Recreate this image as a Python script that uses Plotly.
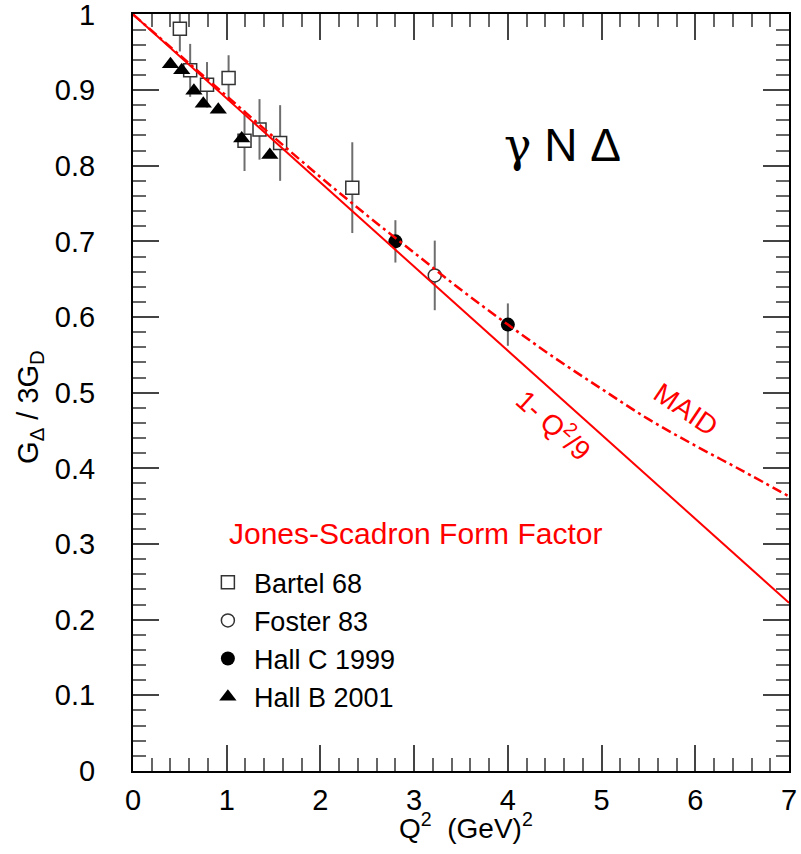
import plotly.graph_objects as go

# Bartel 68 (open squares)
bartel_q2 = [0.50, 0.61, 0.79, 1.02, 1.19, 1.35, 1.57, 2.34]
bartel_g = [0.981, 0.926, 0.907, 0.916, 0.833, 0.848, 0.830, 0.771]
bartel_err = [0.030, 0.035, 0.030, 0.030, 0.040, 0.040, 0.050, 0.060]

# Foster 83 (open circle)
foster_q2 = [3.22]
foster_g = [0.655]
foster_err = [0.046]

# Hall C 1999 (filled circles)
hallc_q2 = [2.80, 4.00]
hallc_g = [0.700, 0.590]
hallc_err = [0.028, 0.028]

# Hall B 2001 (filled triangles)
hallb_q2 = [0.40, 0.52, 0.65, 0.75, 0.91, 1.16, 1.46]
hallb_g = [0.934, 0.926, 0.899, 0.882, 0.874, 0.836, 0.814]

# Straight-line form factor 1 - Q^2/9
lin_q2 = [0.0, 7.0]
lin_g = [1.0, 0.2222]

# MAID curve
maid_q2 = [0.0, 0.5, 1.0, 1.5, 2.0, 2.5, 3.0, 3.5, 4.0, 4.5, 5.0, 5.5, 6.0, 6.5, 7.0]
maid_g = [1.0, 0.946, 0.892, 0.838, 0.785, 0.734, 0.685, 0.636, 0.590, 0.546,
          0.505, 0.465, 0.430, 0.397, 0.363]

# Axis tick values and labels
x_ticks = [0, 1, 2, 3, 4, 5, 6, 7]
x_ticklabels = ["0", "1", "2", "3", "4", "5", "6", "7"]
y_ticks = [0.0, 0.1, 0.2, 0.3, 0.4, 0.5, 0.6, 0.7, 0.8, 0.9, 1.0]
y_ticklabels = ["0", "0.1", "0.2", "0.3", "0.4", "0.5", "0.6", "0.7", "0.8", "0.9", "1"]

FONT = "Liberation Sans, Arial, Helvetica, sans-serif"
RED = "#ff0000"
ERR_COLOR = "#6e6e6e"

fig = go.Figure()

fig.add_trace(go.Scatter(
    x=bartel_q2, y=bartel_g, mode="markers", name="Bartel 68",
    marker=dict(symbol="square", size=13, color="white",
                line=dict(color="#333333", width=1.5)),
    error_y=dict(type="data", array=bartel_err, color=ERR_COLOR, thickness=2, width=0),
))
fig.add_trace(go.Scatter(
    x=foster_q2, y=foster_g, mode="markers", name="Foster 83",
    marker=dict(symbol="circle", size=13, color="white",
                line=dict(color="#333333", width=1.5)),
    error_y=dict(type="data", array=foster_err, color=ERR_COLOR, thickness=2, width=0),
))
fig.add_trace(go.Scatter(
    x=hallc_q2, y=hallc_g, mode="markers", name="Hall C 1999",
    marker=dict(symbol="circle", size=14, color="black"),
    error_y=dict(type="data", array=hallc_err, color=ERR_COLOR, thickness=2, width=0),
))
fig.add_trace(go.Scatter(
    x=hallb_q2, y=hallb_g, mode="markers", name="Hall B 2001",
    marker=dict(symbol="triangle-up", size=15, color="black"),
))

fig.add_trace(go.Scatter(
    x=lin_q2, y=lin_g, mode="lines", showlegend=False,
    line=dict(color=RED, width=2),
))
fig.add_trace(go.Scatter(
    x=maid_q2, y=maid_g, mode="lines", showlegend=False,
    line=dict(color=RED, width=2.5, dash="10px,4px,3px,4px", shape="spline"),
))

annotations = [
    dict(x=4.58, y=0.828, xref="x", yref="y", showarrow=False,
         xanchor="center", yanchor="middle",
         text="<span style='font-family:DejaVu Serif'>γ</span> N Δ",
         font=dict(family=FONT, size=46, color="black")),
    dict(x=5.90, y=0.478, xref="x", yref="y", showarrow=False, textangle=34,
         xanchor="center", yanchor="middle",
         text="MAID", font=dict(family=FONT, size=28, color=RED)),
    dict(x=4.50, y=0.458, xref="x", yref="y", showarrow=False, textangle=42,
         xanchor="center", yanchor="middle",
         text="1- Q<sup>2</sup>/9", font=dict(family=FONT, size=28, color=RED)),
    dict(x=1.00, y=0.314, xref="x", yref="y", showarrow=False,
         xanchor="left", yanchor="middle",
         text="Jones-Scadron Form Factor", font=dict(family=FONT, size=30, color=RED)),
    dict(x=-0.157, y=0.481, xref="paper", yref="paper", showarrow=False, textangle=-90,
         xanchor="center", yanchor="middle",
         text="G<sub>Δ</sub> / 3G<sub>D</sub>", font=dict(family=FONT, size=29, color="black")),
    dict(x=0.508, y=-0.072, xref="paper", yref="paper", showarrow=False,
         xanchor="center", yanchor="middle",
         text="Q<sup>2</sup>  (GeV)<sup>2</sup>", font=dict(family=FONT, size=28, color="black")),
]

fig.update_layout(
    width=801, height=854,
    margin=dict(l=133, r=12, t=14, b=83, autoexpand=False),
    paper_bgcolor="white", plot_bgcolor="white",
    font=dict(family=FONT, size=28, color="black"),
    annotations=annotations,
    showlegend=True,
    legend=dict(x=0.105, y=0.281, xanchor="left", yanchor="top",
                bgcolor="rgba(0,0,0,0)", borderwidth=0,
                font=dict(family=FONT, size=27, color="black"),
                tracegroupgap=0, itemclick=False, itemwidth=42),
)

axis_common = dict(
    showgrid=False, zeroline=False, showline=True, linecolor="black", linewidth=2,
    mirror="allticks", ticks="inside", ticklen=26, tickwidth=1.5, tickcolor="#444444",
    tickfont=dict(family=FONT, size=29, color="black"),
    tickmode="array", automargin=False, ticklabeloverflow="allow",
)

fig.update_xaxes(range=[0, 7], tickvals=x_ticks, ticktext=x_ticklabels,
                 ticklabelstandoff=2,
                 minor=dict(dtick=0.2, tick0=0, ticks="inside", ticklen=13, tickwidth=1.5,
                            tickcolor="#666666", showgrid=False),
                 **axis_common)
fig.update_yaxes(range=[0, 1.0005], tickvals=y_ticks, ticktext=y_ticklabels,
                 ticklabelstandoff=30,
                 minor=dict(dtick=0.02, tick0=0, ticks="inside", ticklen=13, tickwidth=1.5,
                            tickcolor="#666666", showgrid=False),
                 **axis_common)

fig.write_html("out.html")
